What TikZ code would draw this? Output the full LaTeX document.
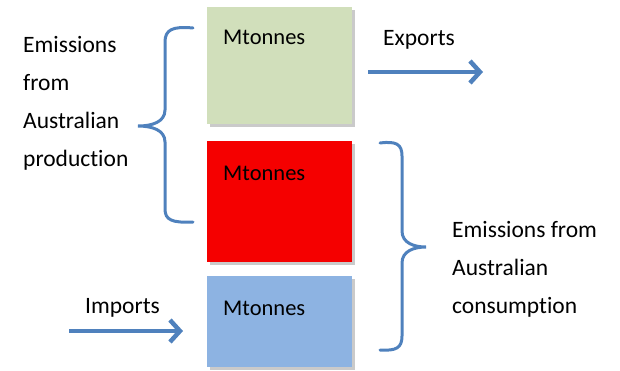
\documentclass[tikz,border=0pt]{standalone}
\usepackage{fontspec}
\setmainfont{Carlito}[Ligatures=NoCommon]
\usetikzlibrary{arrows.meta,shadows}
\definecolor{boxgreen}{RGB}{209,223,187}
\definecolor{boxred}{RGB}{245,0,0}
\definecolor{boxblue}{RGB}{141,179,226}
\definecolor{lineblue}{RGB}{79,129,189}
\tikzset{
  mbox/.style={draw=none, minimum width=145pt, inner sep=0pt, anchor=north west,
    drop shadow={shadow xshift=3pt, shadow yshift=-3pt, fill=black!35, opacity=.6}},
  mtext/.style={anchor=base west, inner sep=0pt, font=\fontsize{22.5}{27}\selectfont},
  lbl/.style={anchor=base west, inner sep=0pt, align=left, font=\fontsize{23.5}{38}\selectfont},
  flow/.style={draw=lineblue, line width=4.5pt, -{Straight Barb[length=10pt,width=22pt]}},
  brc/.style={draw=lineblue, line width=3pt, line cap=round}
}
\begin{document}
\begin{tikzpicture}[x=1pt,y=-1pt]
\useasboundingbox (0,0) rectangle (620,370);
% the three boxes
\node[mbox, fill=boxgreen, minimum height=117pt] (green) at (207,7) {};
\node[mbox, fill=boxred, minimum height=121pt] (red) at (207,141) {};
\node[mbox, fill=boxblue, minimum height=91pt] (blue) at (207,276) {};
\node[mtext] (gtxt) at (223,44) {Mtonnes};
\node[mtext] (rtxt) at (223,180) {Mtonnes};
\node[mtext] (btxt) at (223,315) {Mtonnes};
% flows in and out
\coordinate (expA) at (368,72);
\coordinate (expB) at (483,72);
\draw[flow] (expA) -- (expB);
\node[lbl] (exp) at (383,45) {Exports};
\coordinate (impA) at (69,331);
\coordinate (impB) at (183,331);
\draw[flow] (impA) -- (impB);
\node[lbl] (imp) at (85,313) {Imports};
% production brace (base anchor sits on the last line)
\coordinate (prodtip) at (138,126);
\draw[brc] (193,28) .. controls (172,26) and (165,30) .. (165,42) -- (165,110)
  .. controls (165,122) and (152,126) .. (prodtip)
  .. controls (152,126) and (165,130) .. (165,142) -- (165,209)
  .. controls (165,220) and (172,223) .. (193,222);
\node[lbl] (prod) at (23,166) {Emissions\\from\\Australian\\production};
% consumption brace
\coordinate (constip) at (426,247);
\draw[brc] (380,143) .. controls (396,141) and (402,144) .. (402,156) -- (402,231)
  .. controls (402,243) and (414,247) .. (constip)
  .. controls (414,247) and (402,251) .. (402,263) -- (402,336)
  .. controls (402,348) and (396,351) .. (380,350);
\node[lbl] (cons) at (452,313) {Emissions from\\Australian\\consumption};
\end{tikzpicture}
\end{document}
